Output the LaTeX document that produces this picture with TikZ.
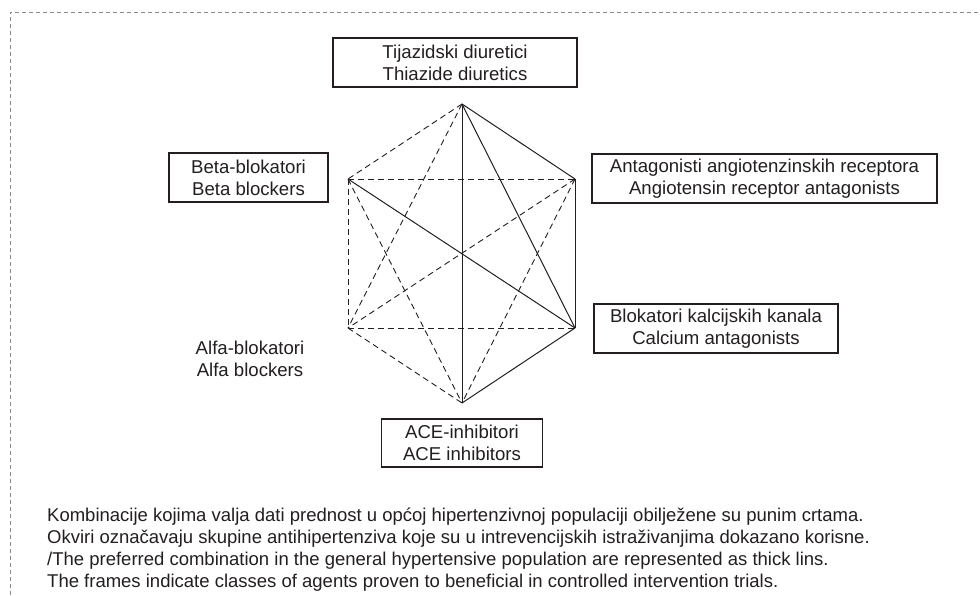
\documentclass[tikz,border=0pt]{standalone}
\usepackage{fontspec}
\setmainfont{Liberation Sans}
\definecolor{ink}{HTML}{231F20}
\definecolor{framegray}{HTML}{8A8A8A}
\begin{document}
\begin{tikzpicture}[x=1pt,y=-1pt,
  box/.style={draw=ink, line width=1.1pt, minimum height=49pt, inner sep=0pt,
    align=center, text=ink, font=\fontsize{18.6}{21.7}\selectfont},
  lbl/.style={inner sep=0pt, align=center, text=ink, font=\fontsize{18.6}{21.7}\selectfont},
  solidedge/.style={draw=ink, line width=1pt},
  dashedge/.style={draw=ink, line width=0.9pt, dash pattern=on 6pt off 4pt},
  framestyle/.style={draw=framegray, line width=0.6pt, dash pattern=on 4pt off 3pt}]
\useasboundingbox (0,0) rectangle (980,595);
\fill[white] (0,0) rectangle (980,595);
% page frame (top and left)
\coordinate (fa) at (10,595);
\coordinate (fb) at (10,12);
\coordinate (fc) at (980,12);
\draw[framestyle] (fa) -- (fb) -- (fc);

% boxes
\node[box, minimum width=244pt] (thz) at (455,62.5) {Tijazidski diuretici\\Thiazide diuretics};
\node[box, minimum width=159pt] (beta) at (248.5,177.5) {Beta-blokatori\\Beta blockers};
\node[box, minimum width=345pt] (arb) at (764.5,178.5) {Antagonisti angiotenzinskih receptora\\Angiotensin receptor antagonists};
\node[box, minimum width=244pt] (cca) at (716,328.5) {Blokatori kalcijskih kanala\\Calcium antagonists};
\node[box, minimum width=161pt, minimum height=48pt] (ace) at (462,443) {ACE-inhibitori\\ACE inhibitors};
\node[lbl] (alfa) at (250,358.5) {Alfa-blokatori\\Alfa blockers};

% hexagon vertices
\coordinate (T) at (462,104);
\coordinate (UL) at (348,179);
\coordinate (UR) at (575,179);
\coordinate (LL) at (348,328);
\coordinate (LR) at (575,328);
\coordinate (B) at (462,403);

% dashed combinations
\draw[dashedge] (T) -- (UL);
\draw[dashedge] (T) -- (LL);
\draw[dashedge] (UL) -- (UR);
\draw[dashedge] (UL) -- (LL);
\draw[dashedge] (UL) -- (B);
\draw[dashedge] (UR) -- (LL);
\draw[dashedge] (UR) -- (B);
\draw[dashedge] (LL) -- (LR);
\draw[dashedge] (LL) -- (B);
% preferred (solid) combinations
\draw[solidedge] (T) -- (B);
\draw[solidedge] (T) -- (LR);
\draw[solidedge] (T) -- (UR);
\draw[solidedge] (UL) -- (LR);
\draw[solidedge] (UR) -- (LR);
\draw[solidedge] (LR) -- (B);

% caption
\node[inner sep=0pt, anchor=north west, align=left, text=ink,
  font=\fontsize{18.5}{22}\selectfont] (caption) at (47,508)
{Kombinacije kojima valja dati prednost u općoj hipertenzivnoj populaciji obilježene su punim crtama.\\
Okviri označavaju skupine antihipertenziva koje su u intrevencijskih istraživanjima dokazano korisne.\\
/The preferred combination in the general hypertensive population are represented as thick lins.\\
The frames indicate classes of agents proven to beneficial in controlled intervention trials.};
\end{tikzpicture}
\end{document}
